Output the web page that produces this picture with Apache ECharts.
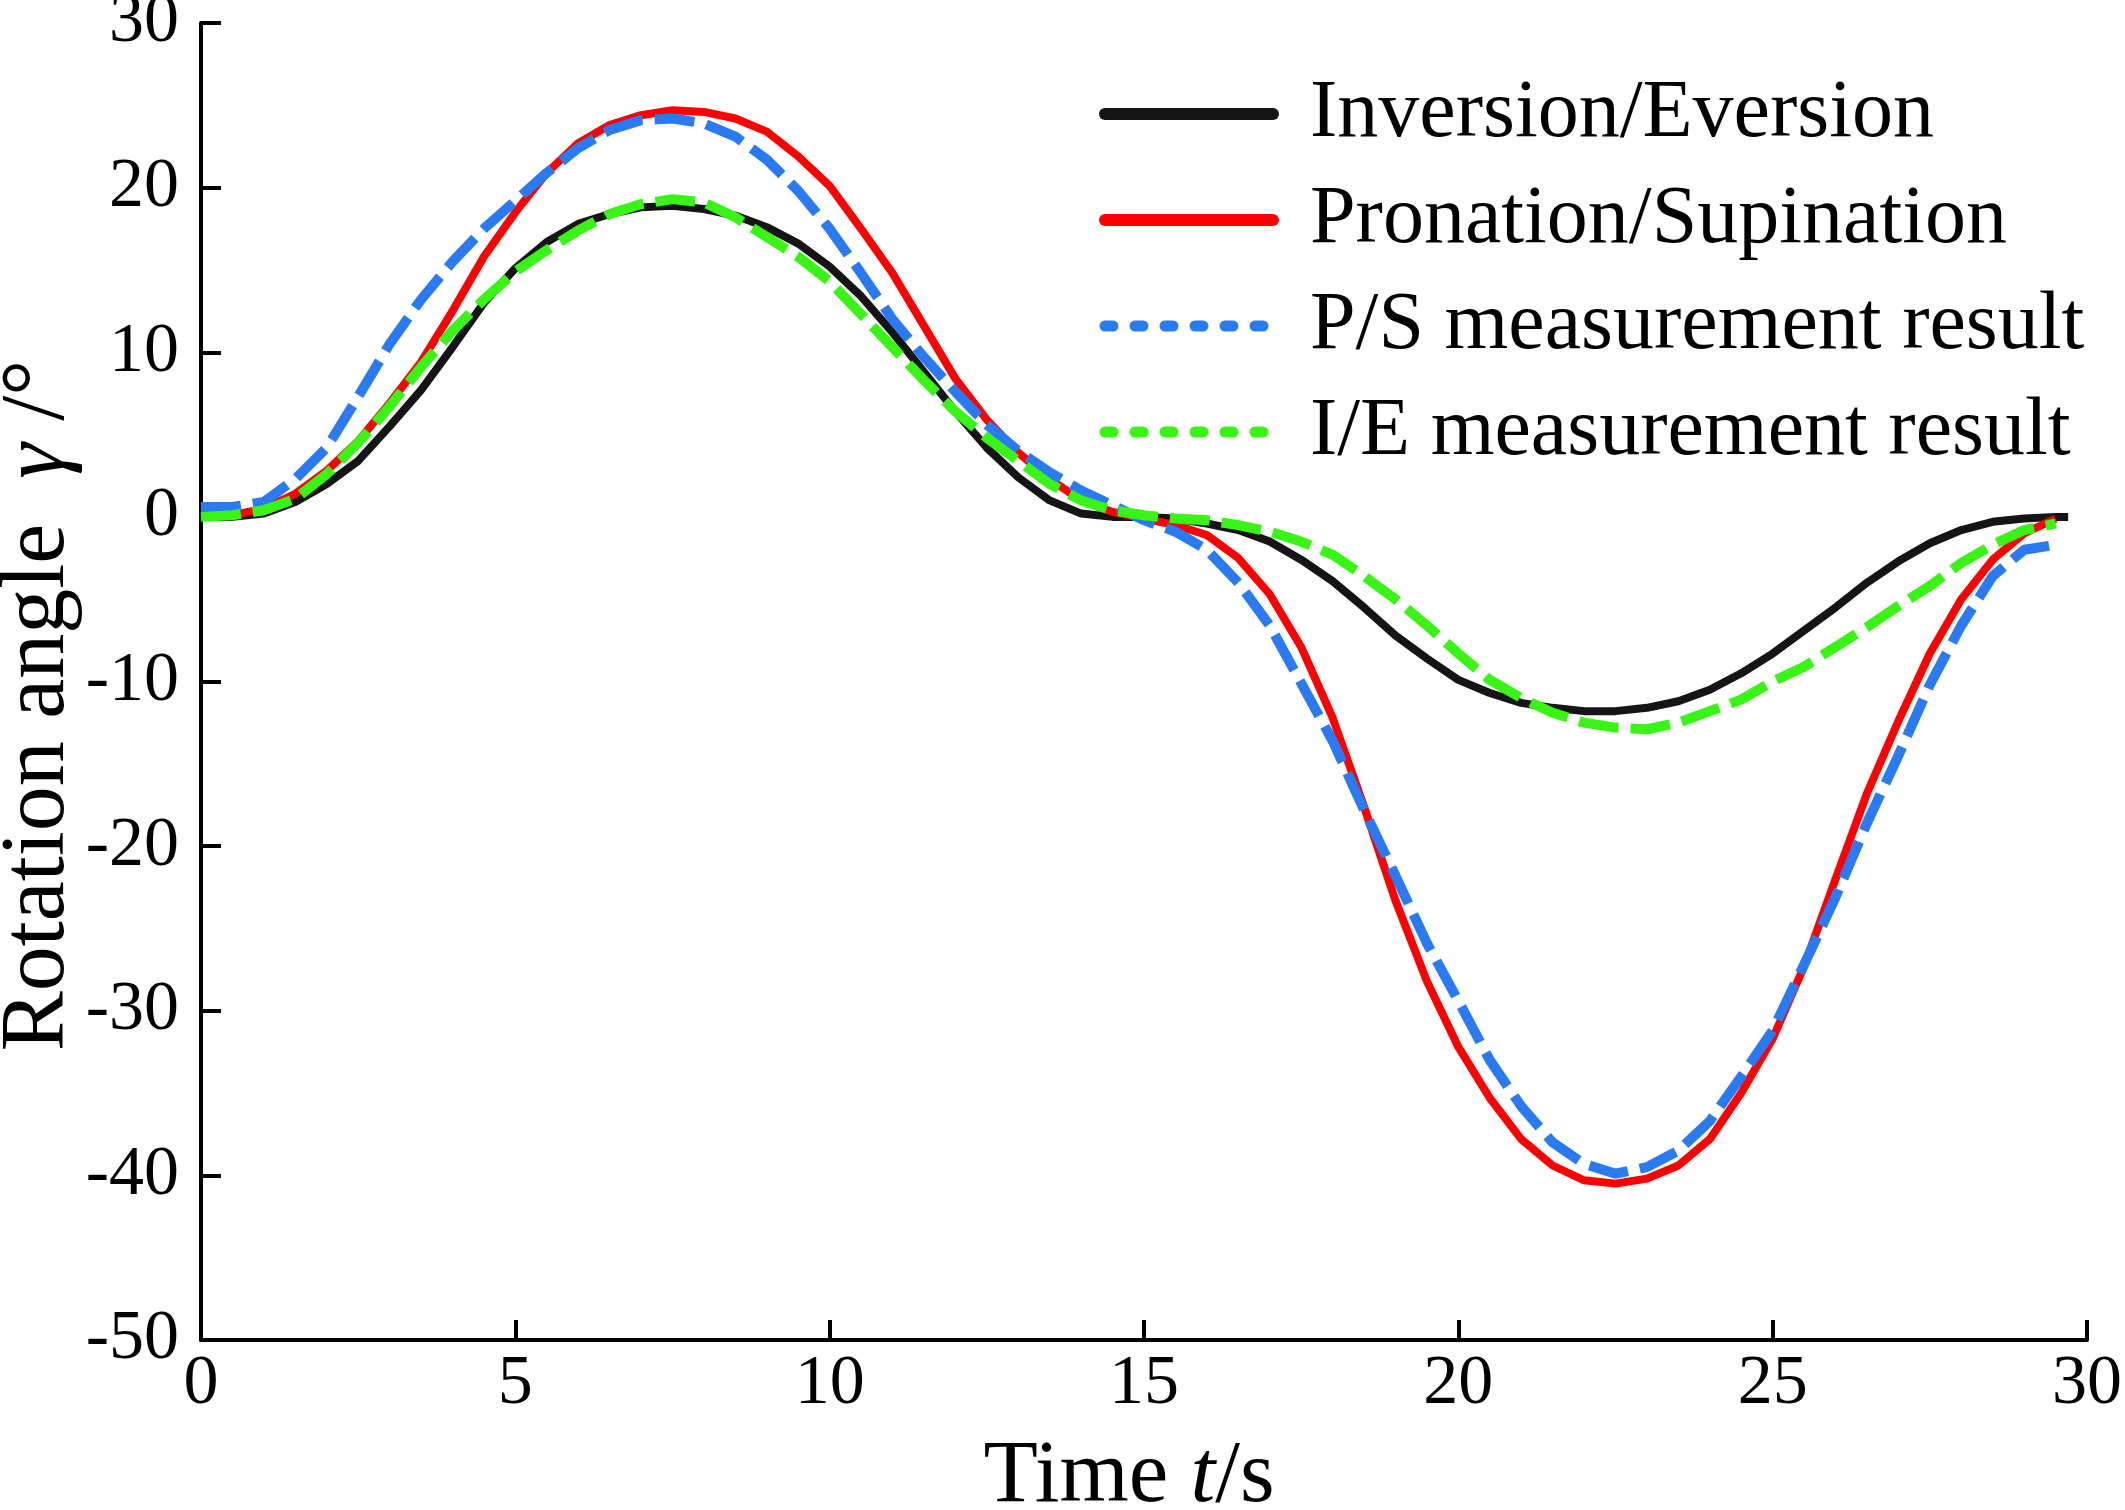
<!DOCTYPE html>
<html><head><meta charset="utf-8">
<script src="https://cdn.jsdelivr.net/npm/echarts@6/dist/echarts.min.js"></script>
<style>html,body{margin:0;padding:0;background:#fff}#c{width:2125px;height:1510px}</style>
</head><body><div id="c"></div>
<script>
// time samples (s)
const timeS = [0,0.5,1,1.5,2,2.5,3,3.5,4,4.5,5,5.5,6,6.5,7,7.5,8,8.5,9,9.5,10,10.5,11,11.5,12,12.5,13,13.5,14,14.5,15,15.5,16,16.5,17,17.5,18,18.5,19,19.5,20,20.5,21,21.5,22,22.5,23,23.5,24,24.5,25,25.5,26,26.5,27,27.5,28,28.5,29,29.5];
const timeIE = [0,0.5,1,1.5,2,2.5,3,3.5,4,4.5,5,5.5,6,6.5,7,7.5,8,8.5,9,9.5,10,10.5,11,11.5,12,12.5,13,13.5,14,14.5,15,15.5,16,16.5,17,17.5,18,18.5,19,19.5,20,20.5,21,21.5,22,22.5,23,23.5,24,24.5,25,25.5,26,26.5,27,27.5,28,28.5,29,29.5,29.7];
// Inversion/Eversion (deg)
const inversionEversion = [0,0,0.2,0.9,2.0,3.4,5.5,7.7,10.3,13.0,15.1,16.7,17.8,18.4,18.8,18.9,18.7,18.3,17.6,16.6,15.2,13.4,11.2,8.8,6.4,4.2,2.4,1.0,0.2,0,0,-0.1,-0.4,-0.8,-1.5,-2.6,-3.9,-5.5,-7.2,-8.6,-9.9,-10.7,-11.3,-11.6,-11.8,-11.8,-11.6,-11.2,-10.5,-9.5,-8.3,-6.9,-5.5,-4.0,-2.7,-1.6,-0.8,-0.3,-0.1,0,0];
// Pronation/Supination (deg)
const pronationSupination = [0,0.1,0.5,1.4,2.8,4.6,6.9,9.4,12.5,15.8,18.5,20.9,22.7,23.8,24.4,24.7,24.6,24.2,23.4,21.9,20.1,17.5,14.8,11.6,8.4,5.9,3.9,2.3,1.0,0.3,-0.1,-0.5,-1.1,-2.5,-4.7,-7.9,-12.2,-17.6,-23.3,-28.2,-32.2,-35.3,-37.8,-39.4,-40.3,-40.5,-40.2,-39.4,-37.8,-35.0,-31.7,-27.3,-22.0,-16.8,-12.4,-8.3,-5.0,-2.6,-1.0,-0.1];
// P/S measurement result (deg)
const psMeasured = [0.6,0.6,0.9,2.3,4.2,7.3,10.5,13.2,15.5,17.5,19.2,20.9,22.4,23.5,24.1,24.2,23.9,23.1,21.7,19.8,17.5,14.8,12.0,9.7,7.6,5.6,4.0,2.7,1.6,0.7,-0.2,-0.9,-2.0,-4.0,-6.6,-10.1,-13.6,-17.8,-21.8,-25.9,-29.4,-33.0,-35.8,-38.0,-39.3,-39.9,-39.5,-38.5,-36.7,-34.0,-31.2,-27.2,-23.1,-18.6,-14.5,-10.2,-6.6,-3.6,-2.0,-1.7];
// I/E measurement result (deg)
const ieMeasured = [0,0.1,0.4,1.1,2.6,4.5,6.7,9.1,11.3,13.2,14.9,16.2,17.4,18.4,19.0,19.3,19.1,18.2,17.0,15.8,14.3,12.3,10.3,8.3,6.4,4.8,3.4,2.0,1.0,0.4,0.1,-0.1,-0.2,-0.5,-0.9,-1.5,-2.3,-3.6,-5.0,-6.6,-8.3,-9.9,-11.0,-11.9,-12.5,-12.8,-12.9,-12.5,-11.8,-11.1,-10.0,-9.1,-7.9,-6.7,-5.4,-4.2,-2.8,-1.7,-0.8,-0.4];
const seriesNames = ['Inversion/Eversion','Pronation/Supination','P/S measurement result','I/E measurement result'];
const xTicks = [0,5,10,15,20,25,30];
const yTicks = [-50,-40,-30,-20,-10,0,10,20,30];

const FONT = '"Liberation Serif","Times New Roman",serif';
const C_BLACK = '#151515', C_RED = '#ff0000', C_BLUE = '#2a7bf3', C_GREEN = '#38f516';
const pair = (ts, vs) => vs.map((v, i) => [ts[i], v]);

const chart = echarts.init(document.getElementById('c'), null, {renderer: 'canvas'});
const axisCommon = {
  axisLine: {show: true, onZero: false, lineStyle: {color: '#000', width: 4}},
  axisTick: {show: true, inside: true, length: 20, lineStyle: {color: '#000', width: 4}},
  splitLine: {show: false},
  axisLabel: {color: '#000', fontFamily: FONT, fontSize: 70}
};
chart.setOption({
  animation: false,
  backgroundColor: '#fff',
  grid: {left: 201, right: 38, top: 23, bottom: 170, containLabel: false, outerBoundsMode: 'none'},
  xAxis: Object.assign({}, axisCommon, {
    type: 'value', min: xTicks[0], max: xTicks[xTicks.length-1], interval: 5,
    axisLabel: Object.assign({}, axisCommon.axisLabel, {margin: 10}),
    name: 'Time {it|t}/s', nameLocation: 'middle', nameGap: 93, nameMoveOverlap: false,
    nameTextStyle: {color: '#000', fontFamily: FONT, fontSize: 89, lineHeight: 89, padding: [0, 30, 0, 0],
      rich: {it: {fontStyle: 'italic', fontFamily: FONT, fontSize: 89, color: '#000'}}}
  }),
  yAxis: Object.assign({}, axisCommon, {
    type: 'value', min: yTicks[0], max: yTicks[yTicks.length-1], interval: 10,
    axisLabel: Object.assign({}, axisCommon.axisLabel, {margin: 22}),
    name: 'Rotation angle  {it|γ} /°', nameLocation: 'middle', nameGap: 117, nameMoveOverlap: false,
    nameTextStyle: {color: '#000', fontFamily: FONT, fontSize: 90, lineHeight: 90, padding: [0, 48, 0, 0],
      rich: {it: {fontStyle: 'italic', fontFamily: FONT, fontSize: 90, color: '#000'}}}
  }),
  legend: {
    orient: 'vertical', left: 1099, top: 73, itemWidth: 168, itemHeight: 20, itemGap: 24,
    padding: 0,
    textStyle: {fontFamily: FONT, fontSize: 82, lineHeight: 82, color: '#000', padding: [0,0,0,32]},
    itemStyle: {opacity: 0},
    lineStyle: {width: 12, cap: 'round'},
    data: [
      {name: seriesNames[0], lineStyle: {type: 'solid', width: 12, cap: 'round'}},
      {name: seriesNames[1], lineStyle: {type: 'solid', width: 12, cap: 'round'}},
      {name: seriesNames[2], lineStyle: {type: [8, 22], width: 11, cap: 'round'}},
      {name: seriesNames[3], lineStyle: {type: [8, 22], width: 11, cap: 'round'}}
    ]
  },
  series: [
    {name: seriesNames[0], type: 'line', data: pair(timeIE, inversionEversion), symbol: 'none', color: C_BLACK,
     lineStyle: {color: C_BLACK, width: 8}},
    {name: seriesNames[1], type: 'line', data: pair(timeS, pronationSupination), symbol: 'none', color: C_RED,
     lineStyle: {color: C_RED, width: 8}},
    {name: seriesNames[2], type: 'line', data: pair(timeS, psMeasured), symbol: 'none', color: C_BLUE,
     lineStyle: {color: C_BLUE, width: 10, type: [40, 12]}},
    {name: seriesNames[3], type: 'line', data: pair(timeS, ieMeasured), symbol: 'none', color: C_GREEN,
     lineStyle: {color: C_GREEN, width: 10, type: [40, 12]}}
  ]
});
</script></body></html>
